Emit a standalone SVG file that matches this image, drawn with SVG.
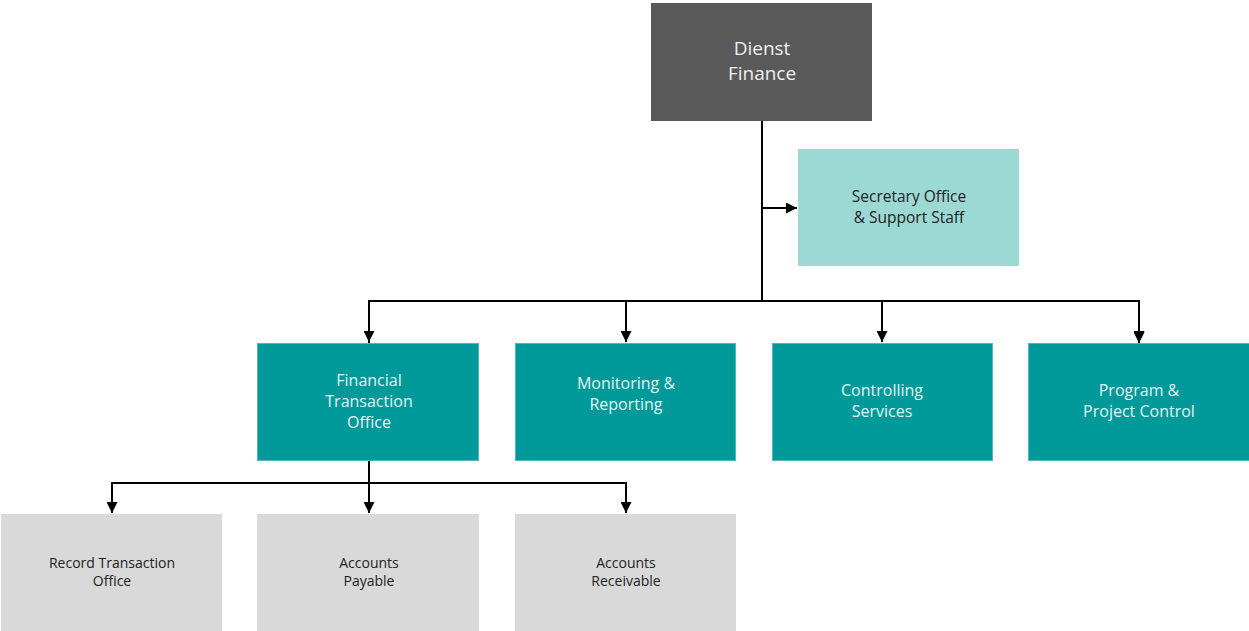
<svg xmlns="http://www.w3.org/2000/svg" width="1249" height="631" viewBox="0 0 1249 631">
<defs>
<style>
.t{font-family:"Open Sans","Noto Sans","Liberation Sans",sans-serif;text-anchor:middle}
.top{fill:#595959}.sec{fill:#9dd9d4}.l2{fill:#009999;stroke:#4fb8b8;stroke-width:1}.l3{fill:#d9d9d9}
.wt{fill:#f0f0f0;font-size:19px}.lt{fill:#e4f4f4;font-size:16px}.dk{fill:#222;font-size:15.5px}.sm{fill:#222;font-size:14px}
.c{fill:none;stroke:#000;stroke-width:2}
</style>
<marker id="ah" viewBox="0 0 10 10" refX="10" refY="5" markerWidth="11" markerHeight="11" markerUnits="userSpaceOnUse" orient="auto"><path d="M0,0 L10,5 L0,10 z" fill="#000"/></marker>
</defs>
<g id="connectors">
<path class="c" d="M762,121 V301"/>
<path class="c" d="M762,208 H797" marker-end="url(#ah)"/>
<path class="c" d="M369,343 V301 H1139 V343" marker-end="url(#ah)"/>
<path class="c" d="M369,301 V342" marker-end="url(#ah)"/>
<path class="c" d="M626,301 V342" marker-end="url(#ah)"/>
<path class="c" d="M882,301 V342" marker-end="url(#ah)"/>
<path class="c" d="M1139,301 V342" marker-end="url(#ah)"/>
<path class="c" d="M369,461 V513" marker-end="url(#ah)"/>
<path class="c" d="M112,513 V483 H626 V513" marker-end="url(#ah)"/>
<path class="c" d="M112,483 V513" marker-end="url(#ah)"/>
</g>
<g id="dienst-finance"><rect class="top" x="651" y="3" width="221" height="118"/><text class="t wt" x="762" y="55">Dienst</text><text class="t wt" x="762" y="80">Finance</text></g>
<g id="secretary"><rect class="sec" x="798" y="149" width="221" height="117"/><text class="t dk" x="909" y="202">Secretary Office</text><text class="t dk" x="909" y="223">&amp; Support Staff</text></g>
<g id="fto"><rect class="l2" x="257.5" y="343.5" width="221" height="117"/><text class="t lt" x="369" y="386">Financial</text><text class="t lt" x="369" y="407">Transaction</text><text class="t lt" x="369" y="428">Office</text></g>
<g id="monitoring"><rect class="l2" x="515.5" y="343.5" width="220" height="117"/><text class="t lt" x="626" y="389">Monitoring &amp;</text><text class="t lt" x="626" y="410">Reporting</text></g>
<g id="controlling"><rect class="l2" x="772.5" y="343.5" width="220" height="117"/><text class="t lt" x="882" y="396">Controlling</text><text class="t lt" x="882" y="417">Services</text></g>
<g id="program"><rect class="l2" x="1028.5" y="343.5" width="221" height="117"/><text class="t lt" x="1139" y="396">Program &amp;</text><text class="t lt" x="1139" y="417">Project Control</text></g>
<g id="record"><rect class="l3" x="1" y="514" width="221" height="117"/><text class="t sm" x="112" y="568">Record Transaction</text><text class="t sm" x="112" y="586">Office</text></g>
<g id="payable"><rect class="l3" x="257" y="514" width="222" height="117"/><text class="t sm" x="369" y="568">Accounts</text><text class="t sm" x="369" y="586">Payable</text></g>
<g id="receivable"><rect class="l3" x="515" y="514" width="221" height="117"/><text class="t sm" x="626" y="568">Accounts</text><text class="t sm" x="626" y="586">Receivable</text></g>
</svg>
